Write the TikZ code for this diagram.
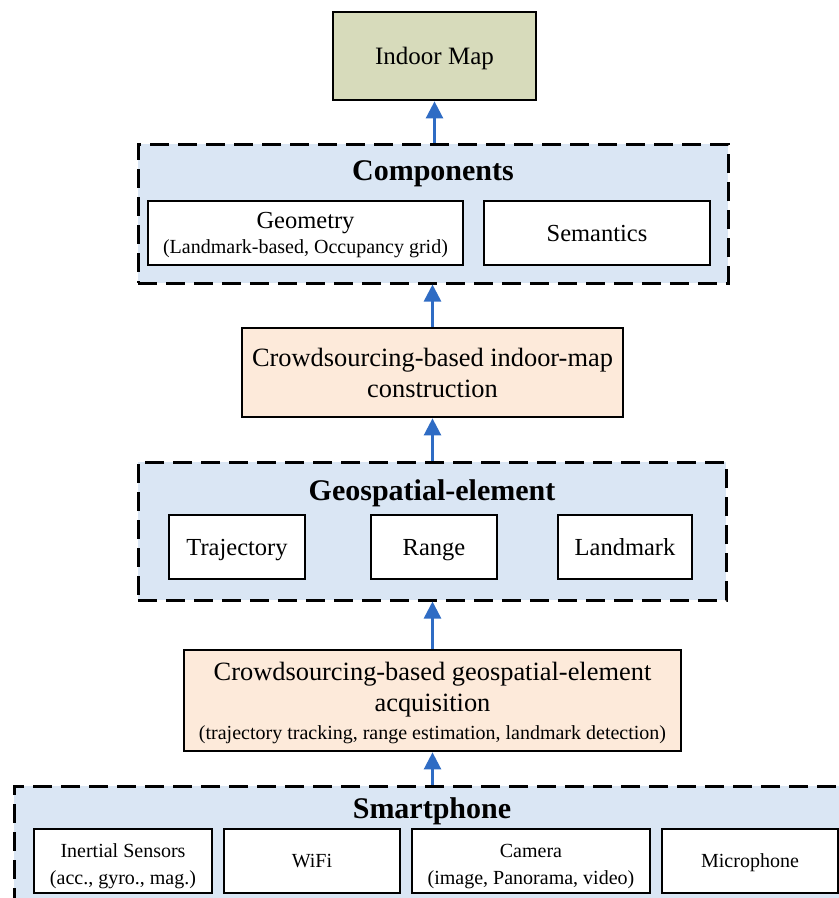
\documentclass[tikz,border=0pt]{standalone}
\usepackage{fontspec}
\setmainfont{Liberation Serif}
\usetikzlibrary{arrows.meta}
\definecolor{contfill}{HTML}{DAE6F4}
\definecolor{peach}{HTML}{FDEADA}
\definecolor{olive}{HTML}{D7DBBB}
\definecolor{arrowblue}{HTML}{2F6CC4}
\tikzset{
  container/.style={draw=black, fill=contfill, line width=3pt, dash pattern=on 19pt off 9pt, rectangle, inner sep=0pt},
  boxbase/.style={draw=black, line width=2.7pt, rectangle, inner sep=0pt, align=center},
  whitebox/.style={boxbase, fill=white, font=\fontsize{24.5}{29}\selectfont},
  whiteone/.style={whitebox, text height=16.2pt, text depth=0pt},
  sensorbox/.style={boxbase, fill=white, font=\fontsize{20}{27}\selectfont},
  sensorone/.style={sensorbox, text height=13.4pt, text depth=0pt},
  mainbox/.style={boxbase, font=\fontsize{25}{31}\selectfont, text height=16.5pt, text depth=0pt},
  crowdbox/.style={boxbase, fill=peach, font=\fontsize{26.4}{31}\selectfont},
  titletext/.style={font=\fontsize{30}{34}\selectfont\bfseries, inner sep=0pt},
  uparrow/.style={draw=arrowblue, line width=2.5pt, -{Triangle[length=17pt,width=17pt]}}
}
\begin{document}
\begin{tikzpicture}[x=1pt,y=-1pt]
\useasboundingbox (0,0) rectangle (839,898);
% Indoor map
\node[mainbox, fill=olive, minimum width=203pt, minimum height=88pt] (map) at (434.5,56) {Indoor Map};
% Components
\node[container, minimum width=590pt, minimum height=139pt] (comp) at (433,213.5) {};
\node[titletext] (comptitle) at (433,174) {Components};
\node[whitebox, minimum width=315pt, minimum height=64pt] (geom) at (305.5,233) {\rule{0pt}{20.5pt}Geometry\\[-4pt]{\fontsize{20}{24}\selectfont (Landmark-based, Occupancy grid)}};
\node[whiteone, minimum width=226pt, minimum height=64pt] (sem) at (597,233) {Semantics};
% Crowd 1
\node[crowdbox, minimum width=381pt, minimum height=89pt] (crowdmap) at (432.5,372.5) {Crowdsourcing-based indoor-map\\construction};
% Geospatial
\node[container, minimum width=588pt, minimum height=138pt] (geo) at (432,531) {};
\node[titletext] (geotitle) at (432,493) {Geospatial-element};
\node[whiteone, minimum width=136pt, minimum height=64pt] (traj) at (237,547) {Trajectory};
\node[whiteone, minimum width=126pt, minimum height=64pt] (range) at (434,547) {Range};
\node[whiteone, minimum width=134pt, minimum height=64pt] (land) at (625,547) {Landmark};
% Crowd 2
\node[crowdbox, minimum width=497pt, minimum height=101pt] (crowdgeo) at (432.5,700.5) {\rule{0pt}{24pt}Crowdsourcing-based geospatial-element\\acquisition\\[-3pt]{\fontsize{20}{24}\selectfont (trajectory tracking, range estimation, landmark detection)}};
% Smartphone
\node[container, minimum width=836pt, minimum height=130pt] (phone) at (432,851) {};
\node[titletext] (phonetitle) at (432,811) {Smartphone};
\node[sensorbox, minimum width=178pt, minimum height=64pt] (imu) at (123,861) {\rule{0pt}{23.5pt}Inertial Sensors\\(acc., gyro., mag.)};
\node[sensorone, minimum width=176pt, minimum height=64pt] (wifi) at (312,861) {WiFi};
\node[sensorbox, minimum width=238pt, minimum height=64pt] (cam) at (531,861) {\rule{0pt}{23.5pt}Camera\\(image, Panorama, video)};
\node[sensorone, minimum width=176pt, minimum height=64pt] (mic) at (750,861) {Microphone};
% Arrows
\draw[uparrow] (comp.north -| map.south) -- (map.south);
\draw[uparrow] (crowdmap.north) -- (crowdmap.north |- comp.south);
\draw[uparrow] (geo.north -| crowdmap.south) -- (crowdmap.south);
\draw[uparrow] (crowdgeo.north) -- (crowdgeo.north |- geo.south);
\draw[uparrow] (phone.north -| crowdgeo.south) -- (crowdgeo.south);
\end{tikzpicture}
\end{document}
